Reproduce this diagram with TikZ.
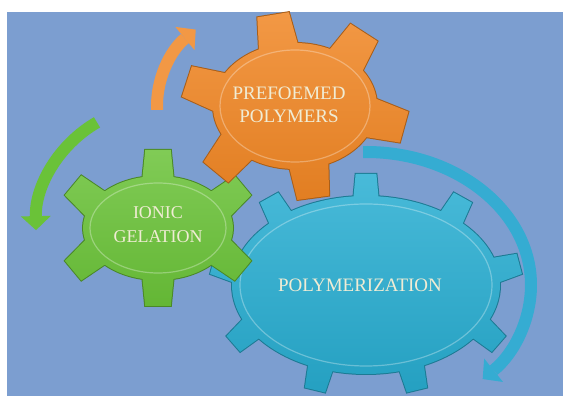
\documentclass[tikz,border=0pt]{standalone}
\usepackage{fontspec}
\setmainfont{Liberation Serif}
\usetikzlibrary{
    arrows.meta,
    positioning
}

\definecolor{canvas}{RGB}{124,158,208}
\definecolor{pfcol}{RGB}{240,134,36}
\definecolor{igcol}{RGB}{106,194,56}
\definecolor{pmcol}{RGB}{40,174,210}
\definecolor{labelcol}{RGB}{240,236,212}

% gear: ellipse body plus one tooth per angle in #7
% #2 centre, #3/#4 radii, #5 tooth length, #6 tooth half width
\newcommand\gear[7]{%
    \path[#1, shift={(#2)}] (0,0) ellipse[x radius=#3pt, y radius=#4pt]
        \foreach \ang [evaluate=\ang as \nx using #4/#3*cos(\ang)/sqrt((sin(\ang))^2+(#4/#3*cos(\ang))^2),
                       evaluate=\ang as \ny using sin(\ang)/sqrt((sin(\ang))^2+(#4/#3*cos(\ang))^2)] in {#7}
        {({#3*cos(\ang)+#6*\ny-6*\nx},{#4*sin(\ang)-#6*\nx-6*\ny})
         -- ({#3*cos(\ang)+0.8*#6*\ny+#5*\nx},{#4*sin(\ang)-0.8*#6*\nx+#5*\ny})
         -- ({#3*cos(\ang)-0.8*#6*\ny+#5*\nx},{#4*sin(\ang)+0.8*#6*\nx+#5*\ny})
         -- ({#3*cos(\ang)-#6*\ny-6*\nx},{#4*sin(\ang)+#6*\nx-6*\ny}) -- cycle};
}

\tikzset{
    spinarrow/.style={line width=12pt, -{Triangle[width=30pt,length=14pt,line width=0pt]}},
    gearlabel/.style={text=labelcol, align=center, font=\fontsize{19}{23}\selectfont}
}

\begin{document}
\begin{tikzpicture}[x=1pt,y=1pt]
    \useasboundingbox (0,0) rectangle (563,396);
    \fill[white] (0,0) rectangle (563,396);
    \fill[canvas] (7,0) rectangle (563,384);

    \begin{scope}
        \clip (7,0) rectangle (563,384);

        % gear centres
        \coordinate (pf) at (295,290);
        \coordinate (ig) at (158,168);
        \coordinate (pm) at (366,111);

        % turning arrows
        \draw[spinarrow, color=pfcol!85!white]
            ([shift={(182:138pt and 110pt)}]pf) arc[start angle=182, end angle=136, x radius=138pt, y radius=110pt];
        \draw[spinarrow, color=igcol]
            ([shift={(120:122pt)}]ig) arc[start angle=120, end angle=181, radius=122pt];
        \draw[spinarrow, color=pmcol!85!canvas]
            ([shift={(91:165pt and 133pt)}]pm) arc[start angle=91, end angle=-45, x radius=165pt, y radius=133pt];

        % gears, back to front
        \gear{preaction={draw=pmcol!70!black, line width=2pt}, top color=pmcol!85!white, bottom color=pmcol!92!black}
            {pm}{134}{89}{22}{13}{10,50,90,130,170,210,250,290,330}
        \draw[white, opacity=.3, line width=1.2pt] (pm) ellipse[x radius=126pt, y radius=81pt];

        \gear{preaction={draw=igcol!70!black, line width=2pt}, top color=igcol!85!white, bottom color=igcol!94!black}
            {ig}{75}{52}{26}{16}{30,90,150,210,270,330}
        \draw[white, opacity=.3, line width=1.2pt] (ig) ellipse[x radius=68pt, y radius=45pt];

        \gear{preaction={draw=pfcol!70!black, line width=2pt}, top color=pfcol!85!white, bottom color=pfcol!94!black}
            {pf}{82}{63}{30}{20}{-12,50,102,166,223,280}
        \draw[white, opacity=.3, line width=1.2pt] (pf) ellipse[x radius=75pt, y radius=56pt];
    \end{scope}

    \node[gearlabel] (pftext) at (289,291) {PREFOEMED\\POLYMERS};
    \node[gearlabel, font=\fontsize{18}{24}\selectfont] (igtext) at (158,171) {IONIC\\GELATION};
    \node[gearlabel] (pmtext) at (360,111) {POLYMERIZATION};
\end{tikzpicture}
\end{document}
